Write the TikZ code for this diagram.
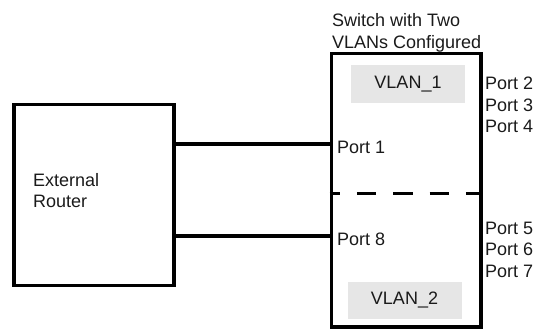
\documentclass[tikz,border=0pt]{standalone}
\usepackage{fontspec}
\setmainfont{Liberation Sans}
\definecolor{vlangray}{HTML}{E6E6E6}
\definecolor{labelink}{HTML}{1A1A1A}
\usetikzlibrary{positioning}

\begin{document}
\begin{tikzpicture}[
  x=1pt, y=-1pt,
  font=\fontsize{18}{21.6}\selectfont,
  device/.style={rectangle, draw=black, line width=3.5pt, inner sep=0pt},
  vlanbox/.style={rectangle, fill=vlangray, text=labelink, minimum width=114pt, minimum height=37.5pt, inner sep=0pt},
  txt/.style={inner sep=0pt, align=left, text=labelink},
  link/.style={line width=3.5pt, draw=black},
  divider/.style={line width=3pt, draw=black, dash pattern=on 19.5pt off 16.8pt, dash phase=9pt}
]
\useasboundingbox (0,0) rectangle (535,329);
\node[device, minimum width=160pt, minimum height=181pt] (router) at (94,195) {};
\node[device, minimum width=149.7pt, minimum height=273.3pt] (switch) at (406.2,190.3) {};
\node[txt, anchor=north west] (routername) at (33,173) {External\\Router};
\node[txt, anchor=north west] (switchname) at (332,13.5) {Switch with Two\\VLANs Configured};
\node[vlanbox] (vlan1) at (408,83.8) {VLAN\_1};
\node[vlanbox] (vlan2) at (404.5,300.5) {VLAN\_2};
\draw[divider] ([yshift=-3pt]switch.west) -- ([yshift=-3pt]switch.east);
\node[txt, anchor=base west] (port1) at (337,153) {Port 1};
\node[txt, anchor=base west] (port8) at (337,245) {Port 8};
\node[txt, anchor=north west] (ports24) at (485,77) {Port 2\\Port 3\\Port 4};
\node[txt, anchor=north west] (ports57) at (485,221.7) {Port 5\\Port 6\\Port 7};
\draw[link] ([yshift=51pt]router.east) -- ([yshift=51pt]router.east -| switch.west);
\draw[link] ([xshift=-3pt,yshift=-41pt]router.east) -- ([yshift=-41pt]router.east -| switch.west);
\end{tikzpicture}
\end{document}
